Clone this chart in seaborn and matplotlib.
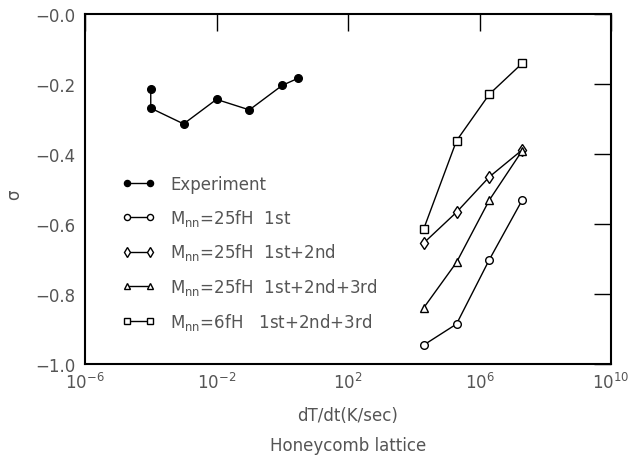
import numpy as np
import pandas as pd
import matplotlib
matplotlib.use("Agg")
import matplotlib.pyplot as plt
from matplotlib.lines import Line2D
import seaborn as sns

# ---- data ----
exp_x = [1e-4, 1e-4, 1e-3, 1e-2, 1e-1, 1e0, 3e0]
exp_y = [-0.215, -0.27, -0.315, -0.245, -0.275, -0.205, -0.185]

sim_x = [2e4, 2e5, 2e6, 2e7]
m25_1st = [-0.946, -0.886, -0.702, -0.532]
m25_12 = [-0.655, -0.567, -0.466, -0.389]
m25_123 = [-0.840, -0.710, -0.532, -0.391]
m6_123 = [-0.615, -0.363, -0.230, -0.142]

labels = ["Experiment",
          r"M$_{nn}$=25fH  1st",
          r"M$_{nn}$=25fH  1st+2nd",
          r"M$_{nn}$=25fH  1st+2nd+3rd",
          r"M$_{nn}$=6fH   1st+2nd+3rd"]
markers = ["o", "o", "d", "^", "s"]
xticks = [1e-6, 1e-2, 1e2, 1e6, 1e10]
yticks = [-1.0, -0.8, -0.6, -0.4, -0.2, 0.0]
ytick_labels = ["\u22121.0", "\u22120.8", "\u22120.6", "\u22120.4", "\u22120.2", "\u22120.0"]

# ---- style ----
sns.set_style("white")
plt.rcParams["font.family"] = ["DejaVu Sans"]
plt.rcParams["mathtext.default"] = "regular"
txt = "#555555"
fs = 12

fig = plt.figure(figsize=(6.31, 4.64), dpi=100)
ax = fig.add_axes([85 / 631, 1 - 365 / 464, 526 / 631, 350.5 / 464])

series = [(exp_x, exp_y), (sim_x, m25_1st), (sim_x, m25_12), (sim_x, m25_123), (sim_x, m6_123)]
msizes = [5.5, 5.5, 6.5, 6, 5.5]
for i, ((xs, ys), mk) in enumerate(zip(series, markers)):
    filled = i == 0
    sns.lineplot(x=xs, y=ys, ax=ax, sort=False, estimator=None, color="black",
                 linewidth=1.0, marker=mk, markersize=msizes[i],
                 markerfacecolor="black" if filled else "white",
                 markeredgecolor="black", markeredgewidth=1.0)

ax.set_xscale("log")
ax.set_xlim(1e-6, 1e10)
ax.set_ylim(-1.0, 0.0)
ax.set_xticks(xticks)
ax.xaxis.set_minor_locator(matplotlib.ticker.NullLocator())
ax.set_yticks(yticks)
ax.set_yticklabels(ytick_labels)

for s in ax.spines.values():
    s.set_linewidth(1.5)
    s.set_color("black")
    s.set_visible(True)

ax.tick_params(axis="both", which="major", direction="in", length=12, width=1.0,
               top=True, right=True, colors="black", labelcolor=txt, labelsize=fs)
ax.tick_params(axis="x", pad=6)
ax.tick_params(axis="y", pad=7)

ax.set_xlabel("dT/dt(K/sec)", fontsize=fs, color=txt, labelpad=10)
ax.set_ylabel("\u03c3", fontsize=fs, color=txt, va="center")
ax.yaxis.set_label_coords((14 - 85) / 526, 1 - (195 - 14.5) / 350.5)
fig.text(0.5 * (85 + 611) / 631, 1 - 446 / 464, "Honeycomb lattice", ha="center", va="center",
         fontsize=fs, color=txt)

handles = []
for i, mk in enumerate(markers):
    handles.append(Line2D([0], [0], color="black", linewidth=1.0, marker=mk,
                          markersize=msizes[i] * 0.8,
                          markerfacecolor="black" if i == 0 else "white",
                          markeredgecolor="black", markeredgewidth=1.0))
leg = ax.legend(handles, labels, loc="upper left", bbox_to_anchor=((122 - 85) / 526, 1 - (176 - 14.5) / 350.5),
                frameon=False, fontsize=fs, handlelength=1.95, handletextpad=0.95,
                labelspacing=0.82, borderpad=0, borderaxespad=0, numpoints=2)
for t in leg.get_texts():
    t.set_color(txt)

fig.savefig("out.png", dpi=100)
